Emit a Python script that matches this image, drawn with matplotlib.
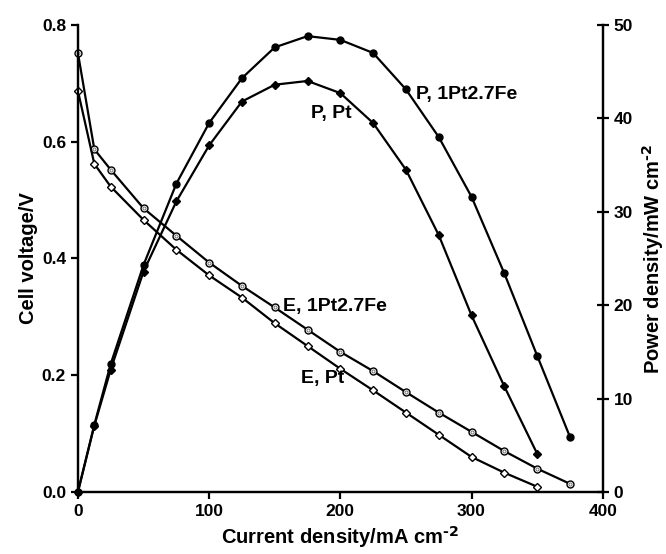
import matplotlib
matplotlib.use('Agg')
import numpy as np
from matplotlib import pyplot as plt

plt.rcParams['font.family'] = ['Liberation Sans', 'DejaVu Sans']
plt.rcParams['font.weight'] = 'bold'
plt.rcParams['mathtext.default'] = 'regular'

# current density, mA cm-2
current = [0, 12.5, 25, 50, 75, 100, 125, 150, 175, 200, 225, 250, 275, 300, 325, 350, 375]

# cell voltage, V
volt_fe = [0.752, 0.587, 0.552, 0.486, 0.439, 0.393, 0.353, 0.316, 0.278, 0.240,
           0.207, 0.171, 0.136, 0.103, 0.070, 0.040, 0.014]
volt_pt = [0.687, 0.562, 0.523, 0.466, 0.415, 0.371, 0.333, 0.289, 0.250, 0.211,
           0.174, 0.136, 0.098, 0.060, 0.033, 0.009]

# power density, mW cm-2
power_fe = [0, 7.2, 13.7, 24.3, 33.0, 39.5, 44.3, 47.6, 48.8, 48.4, 47.0, 43.1,
            38.0, 31.6, 23.4, 14.6, 5.9]
power_pt = [0, 7.1, 13.1, 23.6, 31.1, 37.1, 41.8, 43.6, 44.0, 42.7, 39.5, 34.5,
            27.5, 18.9, 11.3, 4.1]


def setup_axes(ax):
    ax.spines['top'].set_visible(False)
    for s in ax.spines.values():
        s.set_linewidth(1.6)
    ax.tick_params(width=1.6, length=5, labelsize=12.5)


fig = plt.figure(figsize=(6.66, 5.54), dpi=100)
ax = fig.add_axes([0.117, 0.112, 0.788, 0.843])
ax2 = ax.twinx()
setup_axes(ax)
setup_axes(ax2)

ax.plot(current, volt_fe, '-o', color='black', lw=1.6, ms=5,
        mfc='white', mec='black', mew=1.0, clip_on=False, zorder=3)
ax.plot(current, volt_fe, 'o', ms=2.2, mfc='none', mec='0.45', mew=0.7,
        clip_on=False, zorder=4)
ax.plot(current[:len(volt_pt)], volt_pt, '-D', color='black', lw=1.6, ms=3.6,
        mfc='white', mec='black', mew=1.0, clip_on=False, zorder=3)

ax2.plot(current, power_fe, '-o', color='black', lw=1.6, ms=5, clip_on=False)
ax2.plot(current[:len(power_pt)], power_pt, '-D', color='black', lw=1.6, ms=3.6,
         clip_on=False)

ax.set_xlim(0, 400)
ax.set_ylim(0, 0.8)
ax2.set_ylim(0, 50)
ax.set_xticks([0, 100, 200, 300, 400])
ax.set_yticks([0.0, 0.2, 0.4, 0.6, 0.8])
ax.set_yticklabels(['0.0', '0.2', '0.4', '0.6', '0.8'])
ax2.set_yticks([0, 10, 20, 30, 40, 50])
ax2.tick_params(axis='y', direction='inout', length=9)

ax.set_xlabel('Current density/mA cm$^{\\text{-2}}$', fontsize=14.5,
              fontweight='bold', labelpad=4)
ax.set_ylabel('Cell voltage/V', fontsize=14.5, fontweight='bold', labelpad=3)
ax2.set_ylabel('Power density/mW cm$^{\\text{-2}}$', fontsize=14.5,
               fontweight='bold', labelpad=5)

ax.text(258, 0.680, 'P, 1Pt2.7Fe', fontsize=14, fontweight='bold', va='center')
ax.text(178, 0.649, 'P, Pt', fontsize=14, fontweight='bold', va='center')
ax.text(156, 0.317, 'E, 1Pt2.7Fe', fontsize=14, fontweight='bold', va='center')
ax.text(170, 0.195, 'E, Pt', fontsize=14, fontweight='bold', va='center')

fig.savefig('out.png', dpi=100)
